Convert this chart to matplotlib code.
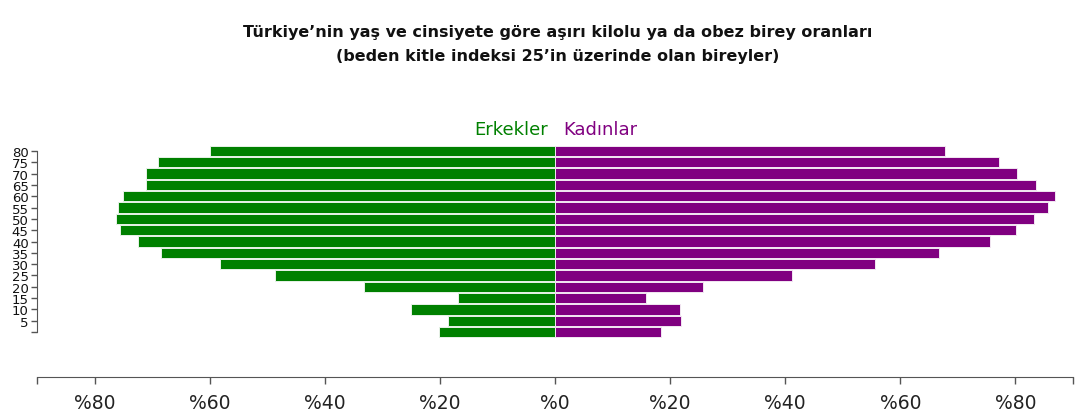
import matplotlib
matplotlib.use('Agg')
import matplotlib.pyplot as plt
import numpy as np

# age groups, top to bottom (last one has no label in the original)
yas_gruplari = ['80', '75', '70', '65', '60', '55', '50', '45', '40',
                '35', '30', '25', '20', '15', '10', '5', '']
# % overweight or obese
erkekler = [60.0, 69.0, 71.0, 71.0, 75.0, 75.9, 76.3, 75.6, 72.5,
            68.5, 58.2, 48.6, 33.1, 16.8, 25.1, 18.6, 20.2]
kadinlar = [67.7, 77.1, 80.3, 83.5, 86.9, 85.7, 83.2, 80.1, 75.5,
            66.8, 55.6, 41.1, 25.7, 15.8, 21.8, 21.9, 18.5]
x_ticks = [-80, -60, -40, -20, 0, 20, 40, 60, 80]

green = '#008000'
purple = '#800080'

plt.rcParams['font.family'] = ['DejaVu Sans']

fig = plt.figure(figsize=(10.76, 4.14), dpi=100)
ax = fig.add_axes([0.0344, 0.1819, 0.9628, 0.4647])

pos = np.arange(len(yas_gruplari))
ax.barh(pos, -np.array(erkekler), height=0.92, color=green,
        edgecolor='#e8f2e8', linewidth=0.7)
ax.barh(pos, kadinlar, height=0.92, color=purple,
        edgecolor='#f2e8f2', linewidth=0.7)

ax.set_xlim(-90, 90)
ax.set_ylim(len(yas_gruplari) - 0.5, -0.5)

for s in ['top', 'right']:
    ax.spines[s].set_visible(False)
ax.spines['left'].set_bounds(0, len(yas_gruplari) - 1)
ax.spines['left'].set_color('#555555')
ax.spines['bottom'].set_position(('outward', 28))
ax.spines['bottom'].set_color('#555555')

# end ticks of the bottom axis
ax.set_xticks([-90, 90], minor=True)
ax.set_yticks(pos)
ax.set_yticklabels(yas_gruplari)
ax.set_xticks(x_ticks)
ax.set_xticklabels(['%' + str(abs(t)) for t in x_ticks])

ax.tick_params(axis='y', length=4, width=1, color='#555555', pad=2,
               labelsize=9.5, labelcolor='#111111')
ax.tick_params(axis='x', which='both', length=5, width=1, color='#555555')
ax.tick_params(axis='x', which='major', pad=7, labelsize=13.5,
               labelcolor='#222222')

fig.text(0.5186, 0.922, 'Türkiye’nin yaş ve cinsiyete göre aşırı kilolu ya da obez birey oranları',
         ha='center', va='center', fontsize=11.5, fontweight='bold', color='#111111')
fig.text(0.5186, 0.864, '(beden kitle indeksi 25’in üzerinde olan bireyler)',
         ha='center', va='center', fontsize=11.5, fontweight='bold', color='#111111')

fig.text(548 / 1076, 1 - 130 / 414, 'Erkekler', ha='right', va='center',
         fontsize=13, color=green)
fig.text(563 / 1076, 1 - 130 / 414, 'Kadınlar', ha='left', va='center',
         fontsize=13, color=purple)

fig.savefig('out.png', dpi=100)
